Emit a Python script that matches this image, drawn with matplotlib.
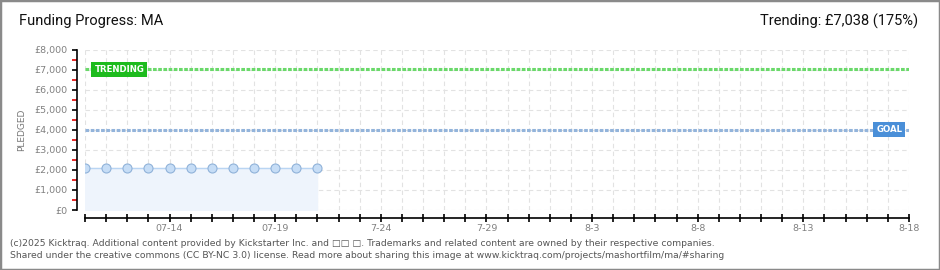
import matplotlib
matplotlib.use("Agg")
import matplotlib.pyplot as plt
import matplotlib.dates as mdates
import numpy as np
import pandas as pd
from matplotlib.patches import Rectangle

# campaign window and pledge history
start_date = "2025-07-10"
end_date = "2025-08-18"
pledge_dates = pd.date_range("2025-07-10", "2025-07-21", freq="D")
pledged = [2085, 2085, 2085, 2085, 2085, 2085, 2085, 2085, 2085, 2085, 2085, 2085]
goal = 4022
trending = 7038
trending_pct = 175

label_dates = ["2025-07-14", "2025-07-19", "2025-07-24", "2025-07-29",
               "2025-08-03", "2025-08-08", "2025-08-13", "2025-08-18"]
label_texts = ["07-14", "07-19", "7-24", "7-29", "8-3", "8-8", "8-13", "8-18"]
y_ticks = [0, 1000, 2000, 3000, 4000, 5000, 6000, 7000, 8000]
y_labels = ["£0", "£1,000", "£2,000", "£3,000", "£4,000", "£5,000", "£6,000", "£7,000", "£8,000"]

W, H = 940, 270
fig = plt.figure(figsize=(W / 100, H / 100), dpi=100)
fig.patch.set_facecolor("white")
fig.patches.append(Rectangle((0, 0), 1, 1, transform=fig.transFigure, fill=False,
                             edgecolor="#8a8a8a", linewidth=2.5))

ax = fig.add_axes([85 / W, 1 - 210 / H, (909 - 85) / W, 160 / H])
x0 = mdates.date2num(pd.Timestamp(start_date))
x1 = mdates.date2num(pd.Timestamp(end_date))
ax.set_xlim(x0, x1)
ax.set_ylim(0, 8000)

# grid
all_days = mdates.date2num(pd.date_range(start_date, end_date, freq="D"))
for d in all_days:
    ax.axvline(d, color="#e2e2e2", lw=0.8, ls=(0, (4, 3)), zorder=0)
for v in y_ticks:
    ax.axhline(v, color="#e2e2e2", lw=0.8, ls=(0, (4, 3)), zorder=0)

# pledges
px = mdates.date2num(pledge_dates)
ax.fill_between(px, 0, pledged, color="#eef4fc", zorder=1)
ax.plot(px, pledged, color="#b9d5f3", lw=1, zorder=2)
ax.plot(px, pledged, "o", ms=6.5, mfc="#c6ddf6", mec="#90b2d9", mew=0.8, zorder=3)

# trending and goal lines
ax.plot([x0, x1], [trending, trending], color="#6ad96a", lw=2.2, ls=(0, (1.2, 0.5)), zorder=2)
ax.plot([x0, x1], [goal, goal], color="#93b4db", lw=2.2, ls=(0, (1.2, 0.5)), zorder=2)

ax.text(x0 + 0.45, trending, "TRENDING", color="white", fontsize=6.2, fontweight="bold",
        ha="left", va="center", zorder=5,
        bbox=dict(boxstyle="square,pad=0.35", fc="#1dbb1d", ec="none"))
ax.text(x1 - 1.55, goal, "GOAL", color="white", fontsize=6.2, fontweight="bold",
        ha="left", va="center", zorder=5,
        bbox=dict(boxstyle="square,pad=0.35", fc="#4a8fd8", ec="none"))

# spines
for s in ["top", "right"]:
    ax.spines[s].set_visible(False)
ax.spines["left"].set_position(("outward", 5.8))
ax.spines["bottom"].set_position(("outward", 5.8))
ax.spines["left"].set_linewidth(1.2)
ax.spines["bottom"].set_linewidth(1.2)

ax.set_yticks(y_ticks)
ax.set_yticklabels(y_labels)
ax.set_yticks(np.arange(500, 8000, 1000), minor=True)
ax.tick_params(axis="y", which="major", length=3.5, width=1.2, color="black",
               labelsize=6.8, labelcolor="#808080", pad=3)
ax.tick_params(axis="y", which="minor", length=3.5, width=1.2, color="#e00000")

ax.set_xticks(mdates.date2num(pd.to_datetime(label_dates)))
ax.set_xticklabels(label_texts)
ax.set_xticks(all_days, minor=True)
ax.tick_params(axis="x", which="both", direction="inout", length=6, width=1.2,
               color="black", labelsize=6.8, labelcolor="#808080", pad=1)

fig.text(22 / W, 1 - 130 / H, "PLEDGED", rotation=90, ha="center", va="center",
         fontsize=6.5, color="#777777")

fig.text(19 / W, 1 - 21 / H, "Funding Progress: MA", ha="left", va="center",
         fontsize=10.5, color="#111111", family="Roboto")
fig.text(918 / W, 1 - 21 / H, f"Trending: £{trending:,} ({trending_pct}%)", ha="right",
         va="center", fontsize=10.5, color="#111111", family="Roboto")

fig.text(10 / W, 1 - 243 / H,
         "(c)2025 Kicktraq. Additional content provided by Kickstarter Inc. and □□ □. "
         "Trademarks and related content are owned by their respective companies.",
         ha="left", va="center", fontsize=6.7, color="#555555")
fig.text(10 / W, 1 - 256 / H,
         "Shared under the creative commons (CC BY-NC 3.0) license. Read more about sharing this "
         "image at www.kicktraq.com/projects/mashortfilm/ma/#sharing",
         ha="left", va="center", fontsize=6.7, color="#555555")

fig.savefig("out.png", dpi=100)
